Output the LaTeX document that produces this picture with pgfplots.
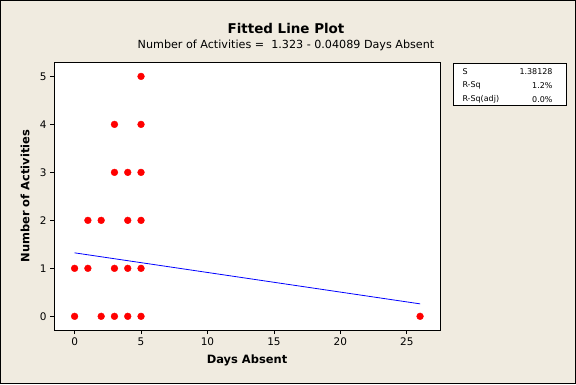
\documentclass[border=0pt]{standalone}
\usepackage{pgfplots}
\pgfplotsset{compat=1.18}
\usepackage{fontspec}
\setmainfont{DejaVu Sans}
\definecolor{bgbeige}{RGB}{240,235,224}
\begin{document}
\begin{tikzpicture}[x=1bp,y=1bp]
\fill[bgbeige] (0,0) rectangle (576,384);
\draw[black,line width=1.2bp] (0.6,0.6) rectangle (575.4,383.4);
\begin{axis}[
  at={(54bp,54bp)}, anchor=south west,
  scale only axis, width=386bp, height=268bp,
  xmin=-1.55, xmax=27.5, ymin=-0.285, ymax=5.30,
  xtick={0,5,10,15,20,25}, ytick={0,1,2,3,4,5},
  xtick pos=bottom, ytick pos=left,
  tick align=outside, major tick length=4bp,
  tick style={black, line width=0.8bp},
  axis line style={black, line width=0.9bp},
  axis background/.style={fill=white},
  /pgf/number format/assume math mode=true,
  tick label style={font=\fontsize{10.5}{12}\selectfont},
  xlabel={Days Absent}, ylabel={Number of Activities},
  label style={font=\bfseries\fontsize{11.5}{13}\selectfont},
  xlabel style={at={(axis description cs:0.5,-0.112)}, anchor=center},
  ylabel style={at={(axis description cs:-0.075,0.5)}, anchor=center},
  clip=false,
]
\addplot[blue, line width=0.8bp] coordinates {(0,1.323) (26,0.25986)};
\addplot[only marks, mark=*, mark size=3.4bp, red, mark options={fill=red, draw=red}] coordinates {
(5,5)
(3,4) (5,4)
(3,3) (4,3) (5,3)
(1,2) (2,2) (4,2) (5,2)
(0,1) (1,1) (3,1) (4,1) (5,1)
(0,0) (2,0) (3,0) (4,0) (5,0) (26,0)
};
\end{axis}
\node[font=\bfseries\fontsize{13.5}{15}\selectfont] at (286,356) {Fitted Line Plot};
\node[font=\fontsize{11.2}{13}\selectfont] at (286,339) {Number of Activities =\ \ 1.323 - 0.04089 Days Absent};
\draw[black, line width=0.9bp, fill=white] (453,279) rectangle (566,321);
\node[font=\fontsize{8}{9}\selectfont, anchor=west] at (459,312.5) {S};
\node[font=\fontsize{8}{9}\selectfont, anchor=west] at (459,298.5) {R-Sq};
\node[font=\fontsize{8}{9}\selectfont, anchor=west] at (459,284.5) {R-Sq(adj)};
\node[font=\fontsize{8}{9}\selectfont, anchor=east] at (556,312.5) {1.38128};
\node[font=\fontsize{8}{9}\selectfont, anchor=east] at (556,298.5) {1.2\%};
\node[font=\fontsize{8}{9}\selectfont, anchor=east] at (556,284.5) {0.0\%};
\end{tikzpicture}
\end{document}
